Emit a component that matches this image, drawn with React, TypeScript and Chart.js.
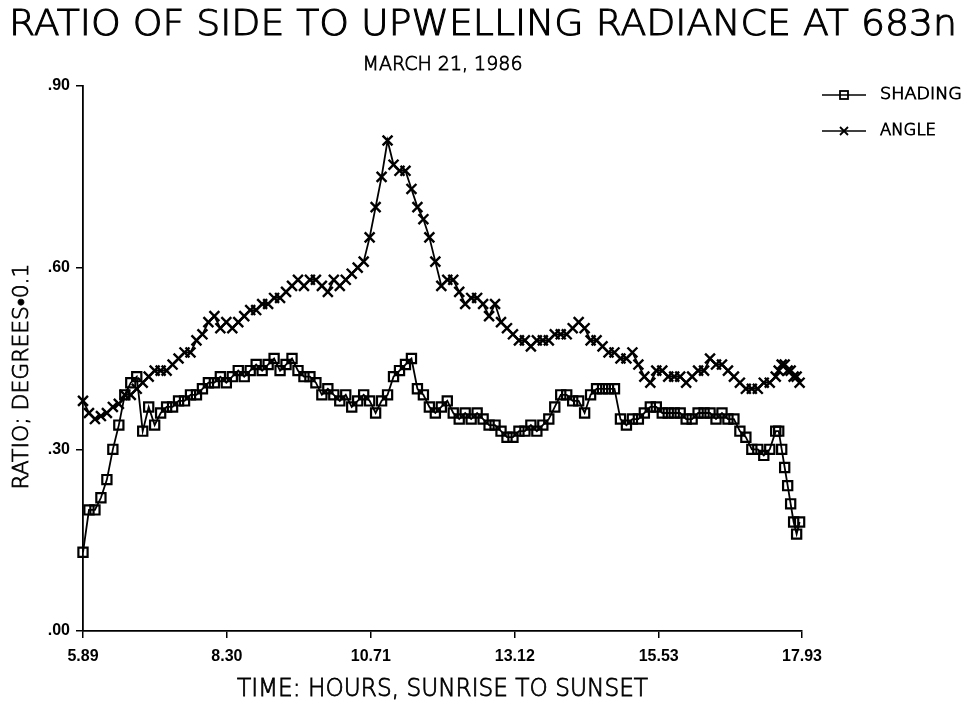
import React, { useEffect, useRef } from "react";
import { Chart, registerables } from "chart.js";

Chart.register(...registerables);

const TITLE = "RATIO OF SIDE TO UPWELLING RADIANCE AT 683n";
const SUBTITLE = "MARCH 21, 1986";
const X_TITLE = "TIME: HOURS, SUNRISE TO SUNSET";
const Y_TITLE = "RATIO; DEGREES\u20220.1";
const SERIES_NAMES = ["SHADING", "ANGLE"];

const X_TICKS = [5.89, 8.3, 10.71, 13.12, 15.53, 17.93];
const X_TICK_LABELS = ["5.89", "8.30", "10.71", "13.12", "15.53", "17.93"];
const Y_TICKS = [0, 0.3, 0.6, 0.9];
const Y_TICK_LABELS = [".00", ".30", ".60", ".90"];

// time of day, hours
const TIMES = [
  5.89, 5.99, 6.09, 6.19, 6.29, 6.39, 6.49, 6.59, 6.69, 6.79,
  6.89, 6.99, 7.09, 7.19, 7.29, 7.39, 7.49, 7.59, 7.69, 7.79,
  7.89, 7.99, 8.09, 8.19, 8.29, 8.39, 8.49, 8.59, 8.69, 8.79,
  8.89, 8.99, 9.09, 9.19, 9.29, 9.39, 9.49, 9.59, 9.69, 9.79,
  9.89, 9.99, 10.09, 10.19, 10.29, 10.39, 10.49, 10.59, 10.69, 10.79,
  10.89, 10.99, 11.09, 11.19, 11.29, 11.39, 11.49, 11.59, 11.69, 11.79,
  11.89, 11.99, 12.09, 12.19, 12.29, 12.39, 12.49, 12.59, 12.69, 12.79,
  12.89, 12.99, 13.09, 13.19, 13.29, 13.39, 13.49, 13.59, 13.69, 13.79,
  13.89, 13.99, 14.09, 14.19, 14.29, 14.39, 14.49, 14.59, 14.69, 14.79,
  14.89, 14.99, 15.09, 15.19, 15.29, 15.39, 15.49, 15.59, 15.69, 15.79,
  15.89, 15.99, 16.09, 16.19, 16.29, 16.39, 16.49, 16.59, 16.69, 16.79,
  16.89, 16.99, 17.09, 17.19, 17.29, 17.39, 17.49,
  17.54, 17.59, 17.64, 17.69, 17.74, 17.79, 17.84, 17.89,
];

const SHADING = [
  0.13, 0.20, 0.20, 0.22, 0.25, 0.30, 0.34, 0.39, 0.41, 0.42,
  0.33, 0.37, 0.34, 0.36, 0.37, 0.37, 0.38, 0.38, 0.39, 0.39,
  0.40, 0.41, 0.41, 0.42, 0.41, 0.42, 0.43, 0.42, 0.43, 0.44,
  0.43, 0.44, 0.45, 0.43, 0.44, 0.45, 0.43, 0.42, 0.42, 0.41,
  0.39, 0.40, 0.39, 0.38, 0.39, 0.37, 0.38, 0.39, 0.38, 0.36,
  0.38, 0.39, 0.42, 0.43, 0.44, 0.45, 0.40, 0.39, 0.37, 0.36,
  0.37, 0.38, 0.36, 0.35, 0.36, 0.35, 0.36, 0.35, 0.34, 0.34,
  0.33, 0.32, 0.32, 0.33, 0.33, 0.34, 0.33, 0.34, 0.35, 0.37,
  0.39, 0.39, 0.38, 0.38, 0.36, 0.39, 0.40, 0.40, 0.40, 0.40,
  0.35, 0.34, 0.35, 0.35, 0.36, 0.37, 0.37, 0.36, 0.36, 0.36,
  0.36, 0.35, 0.35, 0.36, 0.36, 0.36, 0.35, 0.36, 0.35, 0.35,
  0.33, 0.32, 0.30, 0.30, 0.29, 0.30, 0.33,
  0.33, 0.30, 0.27, 0.24, 0.21, 0.18, 0.16, 0.18,
];

const ANGLE = [
  0.38, 0.36, 0.35, 0.355, 0.36, 0.37, 0.375, 0.39, 0.39, 0.40,
  0.41, 0.42, 0.43, 0.43, 0.43, 0.44, 0.45, 0.46, 0.46, 0.48,
  0.49, 0.51, 0.52, 0.50, 0.51, 0.50, 0.51, 0.52, 0.53, 0.53,
  0.54, 0.54, 0.55, 0.55, 0.56, 0.57, 0.58, 0.57, 0.58, 0.58,
  0.57, 0.56, 0.58, 0.57, 0.58, 0.59, 0.60, 0.61, 0.65, 0.70,
  0.75, 0.81, 0.77, 0.76, 0.76, 0.73, 0.70, 0.68, 0.65, 0.61,
  0.57, 0.58, 0.58, 0.56, 0.54, 0.55, 0.55, 0.54, 0.52, 0.54,
  0.51, 0.50, 0.49, 0.48, 0.48, 0.47, 0.48, 0.48, 0.48, 0.49,
  0.49, 0.49, 0.50, 0.51, 0.50, 0.48, 0.48, 0.47, 0.46, 0.46,
  0.45, 0.45, 0.46, 0.44, 0.42, 0.41, 0.43, 0.43, 0.42, 0.42,
  0.42, 0.41, 0.42, 0.43, 0.43, 0.45, 0.44, 0.44, 0.43, 0.42,
  0.41, 0.40, 0.40, 0.40, 0.41, 0.41, 0.42,
  0.43, 0.44, 0.44, 0.43, 0.43, 0.42, 0.42, 0.41,
];

const FONT = '"DejaVu Sans", "Liberation Sans", sans-serif';
const TICK_FONT = '"Liberation Sans", Arial, sans-serif';

function fitText(
  ctx: CanvasRenderingContext2D,
  text: string,
  cx: number,
  cy: number,
  size: number,
  width: number,
  rot = 0,
  align: CanvasTextAlign = "center",
  thicken = 0.8
) {
  ctx.save();
  ctx.font = `200 ${size}px ${FONT}`;
  const w = ctx.measureText(text).width;
  ctx.translate(cx, cy);
  if (rot) ctx.rotate(rot);
  ctx.scale(width / w, 1);
  ctx.textAlign = align;
  ctx.textBaseline = "middle";
  ctx.fillStyle = "#000";
  ctx.strokeStyle = "#000";
  ctx.lineWidth = thicken;
  ctx.fillText(text, 0, 0);
  if (thicken > 0) ctx.strokeText(text, 0, 0);
  ctx.restore();
}

const textPlugin = {
  id: "paperTexts",
  afterDraw(chart: any) {
    const ctx: CanvasRenderingContext2D = chart.ctx;
    const area = chart.chartArea;
    const midX = (area.left + area.right) / 2;
    const midY = (area.top + area.bottom) / 2;
    fitText(ctx, TITLE, 483, 26, 36, 948, 0, "center", 1);
    fitText(ctx, SUBTITLE, midX, 65, 20, 160);
    fitText(ctx, X_TITLE, midX, 690, 24, 411);
    fitText(ctx, Y_TITLE, 22, midY + 18, 22, 226, -Math.PI / 2);

    // legend
    const rows = [95, 131];
    ctx.save();
    ctx.strokeStyle = "#000";
    rows.forEach((y, i) => {
      ctx.lineWidth = 1.5;
      ctx.beginPath();
      ctx.moveTo(822, y);
      ctx.lineTo(866, y);
      ctx.stroke();
      ctx.lineWidth = 1.8;
      if (i === 0) {
        ctx.strokeRect(840, y - 4, 8, 8);
      } else {
        ctx.beginPath();
        ctx.moveTo(840, y - 4);
        ctx.lineTo(848, y + 4);
        ctx.moveTo(848, y - 4);
        ctx.lineTo(840, y + 4);
        ctx.stroke();
      }
    });
    ctx.restore();
    fitText(ctx, SERIES_NAMES[0], 880, 95, 16, 82, 0, "left", 0.9);
    fitText(ctx, SERIES_NAMES[1], 880, 131, 16, 56, 0, "left", 0.9);
  },
};

export default function App() {
  const ref = useRef<HTMLCanvasElement | null>(null);

  useEffect(() => {
    if (!ref.current) return;
    const chart = new Chart(ref.current, {
      type: "line",
      data: {
        datasets: [
          {
            label: SERIES_NAMES[0],
            data: TIMES.map((t, i) => ({ x: t, y: SHADING[i] })),
            borderColor: "#000",
            borderWidth: 1.8,
            backgroundColor: "rgba(0,0,0,0)",
            pointStyle: "rect",
            pointRadius: 6.5,
            pointBorderWidth: 2.2,
            pointBorderColor: "#000",
            pointBackgroundColor: "rgba(0,0,0,0)",
            tension: 0,
            clip: false,
          },
          {
            label: SERIES_NAMES[1],
            data: TIMES.map((t, i) => ({ x: t, y: ANGLE[i] })),
            borderColor: "#000",
            borderWidth: 1.8,
            backgroundColor: "rgba(0,0,0,0)",
            pointStyle: "crossRot",
            pointRadius: 7,
            pointBorderWidth: 2.4,
            pointBorderColor: "#000",
            tension: 0,
            clip: false,
          },
        ],
      },
      options: {
        animation: false,
        responsive: false,
        devicePixelRatio: 1,
        layout: { padding: { top: 86, right: 165, left: 0, bottom: 0 } },
        plugins: {
          legend: { display: false },
          title: { display: false },
          tooltip: { enabled: false },
        },
        scales: {
          x: {
            type: "linear",
            min: X_TICKS[0],
            max: X_TICKS[X_TICKS.length - 1],
            afterBuildTicks: (scale: any) => {
              scale.ticks = X_TICKS.map((v) => ({ value: v }));
            },
            afterFit: (scale: any) => {
              scale.height = 80;
            },
            grid: {
              drawOnChartArea: false,
              drawTicks: true,
              tickLength: 7,
              color: "#000",
              lineWidth: 1.5,
            },
            border: { display: true, color: "#000", width: 1.8 },
            ticks: {
              autoSkip: false,
              maxRotation: 0,
              padding: 9,
              color: "#000",
              font: { family: TICK_FONT, size: 16, weight: "bold" },
              callback: (_v: any, i: number) => X_TICK_LABELS[i],
            },
          },
          y: {
            type: "linear",
            min: Y_TICKS[0],
            max: Y_TICKS[Y_TICKS.length - 1],
            afterBuildTicks: (scale: any) => {
              scale.ticks = Y_TICKS.map((v) => ({ value: v }));
            },
            afterFit: (scale: any) => {
              scale.width = 83;
            },
            grid: {
              drawOnChartArea: false,
              drawTicks: true,
              tickLength: 7,
              color: "#000",
              lineWidth: 1.5,
            },
            border: { display: true, color: "#000", width: 1.8 },
            ticks: {
              autoSkip: false,
              padding: 6,
              color: "#000",
              font: { family: TICK_FONT, size: 16, weight: "bold" },
              callback: (_v: any, i: number) => Y_TICK_LABELS[i],
            },
          },
        },
      },
      plugins: [textPlugin],
    } as any);
    return () => chart.destroy();
  }, []);

  return (
    <div style={{ position: "absolute", left: 0, top: 0, width: 967, height: 711, background: "#fff" }}>
      <canvas ref={ref} width={967} height={711} style={{ display: "block" }} />
    </div>
  );
}
